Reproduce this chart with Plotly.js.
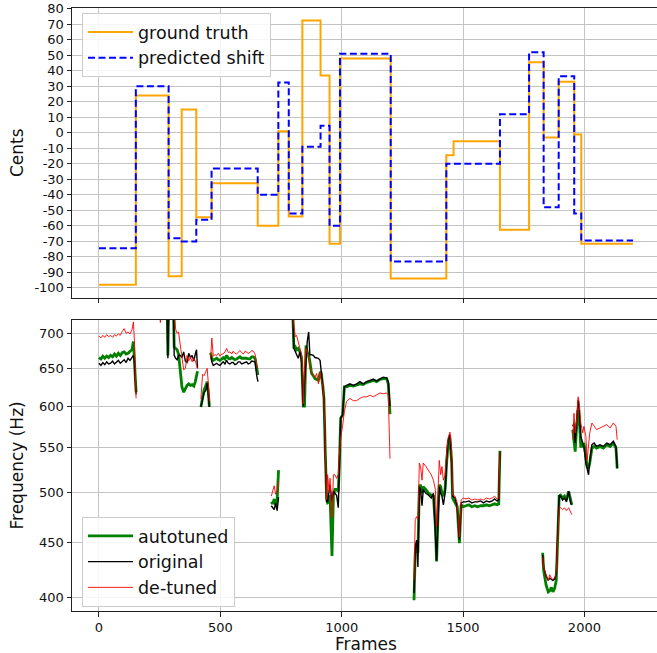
<!DOCTYPE html>
<html><head><meta charset="utf-8">
<script src="https://cdn.plot.ly/plotly-3.0.1.min.js"></script>
<style>html,body{margin:0;padding:0;background:#fff}#chart{width:657px;height:653px}</style>
</head><body><div id="chart"></div>
<script>
// ---- top panel: pitch shift in cents (step functions) ----
const stepFrames  = [0,152,287,341,401,464,654,739,782,838,913,950,993,1202,1431,1461,1652,1772,1832,1894,1958,1987,2200];
const groundTruth = [-98,24,-92.5,15,-54.5,-32.5,-60,1,-54,72.5,37,-71.5,48,-94,-14.5,-5.5,-62.5,45.5,-3,33,-1,-71.5,-71.5];
const predictedShift = [-74.5,30,-68,-70,-56,-23,-40,32.5,-52,-9,4.5,-60,51,-83,-20,-20,12,52,-48,36.5,-52,-69.5,-69.5];

// ---- bottom panel: frequency tracks (Hz), null = unvoiced gap ----
const frames = [
 0,8,16,24,32,40,48,56,64,72,80,88,96,104,112,120,128,136,142,146,150,153,154,
 245,250,253,256,280,284,288,306,310,316,322,328,335,342,349,356,363,370,377,384,391,397,402,406,408,
 420,427,433,441,446,450,455,457,
 460,465,471,478,485,492,499,506,512,519,526,533,540,547,553,560,567,574,581,588,595,602,608,615,622,629,636,643,650,655,657,
 710,716,722,728,734,740,742,
 790,798,803,809,814,821,828,835,840,842,847,853,858,864,869,876,883,890,897,904,911,915,922,927,932,938,942,948,952,957,960,966,972,979,986,990,996,1004,1011,1020,1034,1048,1062,1075,1089,1103,1117,1130,1144,1158,1171,1185,1192,1199,1201,
 1298,1303,1309,1314,1320,1325,1331,1336,1347,1358,1369,1378,1386,1391,1397,1402,1408,1413,1419,1426,1433,1439,1446,1453,1457,1467,1476,1485,1492,1501,1512,1524,1536,1548,1560,1572,1584,1596,1608,1620,1630,1640,1647,1652,1654,
 1828,1832,1842,1851,1857,1864,1870,1877,1884,1891,1896,1902,1910,1918,1926,1935,1943,1948,1950,
 1952,1957,1962,1968,1974,1979,1985,1993,1998,2006,2011,2017,2022,2031,2040,2050,2064,2078,2092,2106,2119,2130,2135
];
const autotuned = [
 665,663,667,664,667,665,668,666,670,667,671,668,672,673,670,671,674,676,688,660,630,618,null,
 760,760,760,760,760,668,760,760,680,678,676,670,645,625,618,622,627,629,627,628,626,632,640,646,null,
 599,614,621,627,632,620,599,null,
 672,664,661,663,664,662,661,663,665,663,668,664,663,665,664,662,663,665,666,664,664,665,664,663,663,666,666,664,648,641,null,
 490,488,493,487,492,524,null,
 760,740,678,680,676,678,673,664,615,600,600,682,673,669,659,643,640,636,635,634,644,645,627,610,549,493,489,490,497,445,437,497,503,503,501,526,585,589,625,625,627,626,628,629,628,631,632,634,632,635,636,636,629,590,null,
 398,440,449,440,506,508,499,506,503,499,497,496,465,432,478,508,506,499,496,503,535,555,562,532,494,489,485,449,487,485,486,487,485,486,485,486,486,487,486,487,488,487,488,546,null,
 440,424,411,405,406,409,405,408,415,459,496,497,494,496,492,501,490,487,null,
 571,559,545,575,595,583,551,551,555,539,528,526,532,549,551,549,551,549,553,551,555,549,526
];
const original = [
 657,654,658,655,659,656,657,660,656,658,661,657,659,662,658,664,661,665,668,660,635,615,null,
 760,760,760,760,760,664,760,760,668,664,662,668,668,665,673,660,658,671,665,668,660,670,676,650,null,
 599,610,617,621,630,618,599,null,
 668,659,654,656,657,655,654,657,659,656,661,657,656,658,658,655,656,659,659,656,657,659,659,656,657,660,660,659,640,632,null,
 486,484,482,489,481,495,null,
 760,740,678,673,669,664,673,659,620,600,632,669,688,702,669,669,668,665,665,664,661,647,627,610,549,490,490,504,508,497,490,501,499,497,484,515,585,589,625,627,629,627,629,632,629,632,634,635,633,636,638,637,632,600,null,
 404,446,452,427,506,503,486,503,499,497,494,499,458,433,472,506,499,496,487,499,539,559,565,535,496,494,485,452,489,490,490,491,489,490,490,491,489,491,490,491,493,491,492,545,null,
 438,427,419,415,417,416,415,416,421,465,497,496,492,494,490,501,489,487,null,
 575,579,555,587,608,595,563,555,551,532,524,519,535,553,555,551,553,551,555,553,557,551,526
];
const detuned = [
 696,693,697,694,698,695,697,694,698,696,699,697,703,707,700,702,699,705,717,690,640,610,null,
 760,722,716,760,760,760,760,760,740,706,700,702,683,664,648,650,668,660,666,659,664,660,655,650,null,
 609,642,640,645,650,632,606,null,
 664,693,667,669,668,671,667,670,670,673,678,672,673,670,674,671,670,673,675,672,670,674,673,671,672,675,674,670,654,650,null,
 496,503,507,498,500,512,null,
 760,740,712,695,697,688,678,669,640,603,650,678,671,664,650,645,640,638,643,629,645,636,627,610,549,492,519,501,515,490,474,519,519,515,519,540,561,576,593,606,610,607,607,610,612,612,614,612,615,617,616,617,614,537,null,
 415,472,475,472,532,528,513,532,528,524,519,513,503,465,513,535,519,528,513,519,547,562,568,547,497,496,489,455,492,494,493,494,492,493,492,493,492,494,493,494,496,493,494,545,null,
 436,427,420,415,420,417,416,417,422,462,485,484,482,484,481,484,480,477,null,
 559,591,567,583,612,604,579,567,575,563,535,551,567,579,575,571,573,575,577,573,579,575,559
];

// ---- ticks ----
const frameTicks = [0,500,1000,1500,2000];
const frameTickLabels = ['0','500','1000','1500','2000'];
const centsTicks = [-100,-90,-80,-70,-60,-50,-40,-30,-20,-10,0,10,20,30,40,50,60,70,80];
const centsTickLabels = ['-100','-90','-80','-70','-60','-50','-40','-30','-20','-10','0','10','20','30','40','50','60','70','80'];
const freqTicks = [400,450,500,550,600,650,700];
const freqTickLabels = ['400','450','500','550','600','650','700'];

const F = 'DejaVu Sans, sans-serif';
const traces = [
 {x:stepFrames, y:groundTruth, type:'scatter', mode:'lines', line:{shape:'hv', color:'#FFA500', width:2}, name:'ground truth', xaxis:'x', yaxis:'y', legend:'legend'},
 {x:stepFrames, y:predictedShift, type:'scatter', mode:'lines', line:{shape:'hv', color:'#0000FF', width:2, dash:'7px,3.5px'}, name:'predicted shift', xaxis:'x', yaxis:'y', legend:'legend'},
 {x:frames, y:autotuned, type:'scatter', mode:'lines', line:{color:'#008000', width:2.8}, name:'autotuned', xaxis:'x2', yaxis:'y2', legend:'legend2', connectgaps:false},
 {x:frames, y:original, type:'scatter', mode:'lines', line:{color:'#000000', width:1.4}, name:'original', xaxis:'x2', yaxis:'y2', legend:'legend2', connectgaps:false},
 {x:frames, y:detuned, type:'scatter', mode:'lines', line:{color:'#FF0000', width:0.9}, name:'de-tuned', xaxis:'x2', yaxis:'y2', legend:'legend2', connectgaps:false}
];
const common = {ticks:'outside', ticklen:4.5, tickwidth:1, tickcolor:'#222', showgrid:true, gridcolor:'#c4c4c4', gridwidth:1,
  showline:true, linecolor:'#222', linewidth:1, zeroline:false, tickfont:{family:F, size:13, color:'#111'}};
const legendCommon = {xanchor:'left', yanchor:'top', bgcolor:'rgba(255,255,255,0.85)', bordercolor:'#cccccc', borderwidth:1,
  font:{family:F, size:17.5, color:'#111'}, tracegroupgap:0, itemwidth:45};
const layout = {
 width:657, height:653, margin:{l:72, r:0, t:8, b:42},
 paper_bgcolor:'#fff', plot_bgcolor:'#fff', showlegend:true,
 xaxis:Object.assign({}, common, {domain:[0,1], anchor:'y', range:[-111,2299], tickvals:frameTicks, showticklabels:false, mirror:true}),
 yaxis:Object.assign({}, common, {domain:[0.5191,1], anchor:'x', range:[-106.5,80.5], tickvals:centsTicks, ticktext:centsTickLabels}),
 xaxis2:Object.assign({}, common, {domain:[0,1], anchor:'y2', matches:'x', range:[-111,2299], tickvals:frameTicks, ticktext:frameTickLabels, mirror:true}),
 yaxis2:Object.assign({}, common, {domain:[0,0.4826], anchor:'x2', type:'log', range:[Math.log10(389), Math.log10(720)], tickvals:freqTicks, ticktext:freqTickLabels}),
 legend:Object.assign({}, legendCommon, {x:0.0171, y:0.9917}),
 legend2:Object.assign({}, legendCommon, {x:0.0171, y:0.1559}),
 annotations:[
  {text:'Cents', xref:'paper', yref:'paper', x:-0.094, y:0.7595, xanchor:'center', yanchor:'middle', textangle:-90, showarrow:false, font:{family:F, size:17, color:'#111'}},
  {text:'Frequency (Hz)', xref:'paper', yref:'paper', x:-0.094, y:0.2413, xanchor:'center', yanchor:'middle', textangle:-90, showarrow:false, font:{family:F, size:17, color:'#111'}},
  {text:'Frames', xref:'paper', yref:'paper', x:0.5026, y:-0.0547, xanchor:'center', yanchor:'middle', showarrow:false, font:{family:F, size:17, color:'#111'}}
 ]
};
Plotly.newPlot('chart', traces, layout, {staticPlot:true, displayModeBar:false});
</script></body></html>
